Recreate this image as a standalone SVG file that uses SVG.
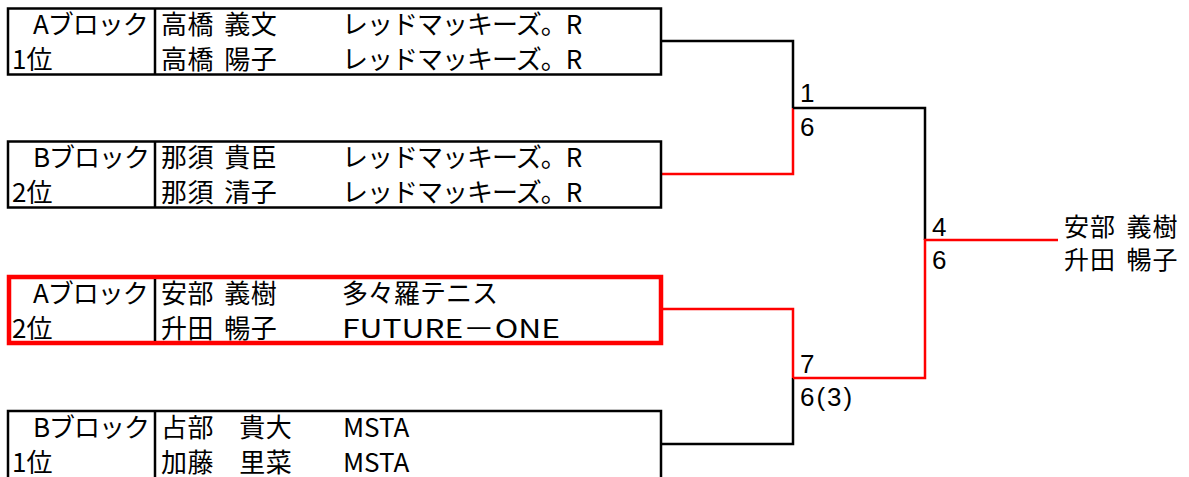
<svg xmlns="http://www.w3.org/2000/svg" width="1189" height="477" viewBox="0 0 1189 477">
<style>
text{font-family:"Noto Sans CJK JP","Noto Sans",sans-serif;font-size:26px;fill:#000}
.box{fill:#fff;stroke:#000;stroke-width:2.5}
.win{fill:#fff;stroke:#f00;stroke-width:4.5}
.div{stroke:#000;stroke-width:2.5}
.k{fill:none;stroke:#000;stroke-width:2.5}
.r{fill:none;stroke:#f00;stroke-width:2.5}
.n{font-family:"Liberation Sans","Noto Sans",sans-serif;font-size:26px}
.blk{letter-spacing:-1px}
.nm{letter-spacing:0.5px;word-spacing:4px}
.nm2{letter-spacing:0.5px;word-spacing:19px}
.kana{letter-spacing:-1px}
.wn{font-size:25px;letter-spacing:1px;word-spacing:4px}
</style>
<rect width="1189" height="477" fill="#fff"/>
<g id="connectors">
<polyline class="k" points="661,41 793,41 793,108"/>
<polyline class="r" points="661,174 793,174 793,108"/>
<polyline class="k" points="793,108 925,108 925,240"/>
<polyline class="r" points="661,309 793,309 793,378"/>
<polyline class="k" points="661,444 793,444 793,378"/>
<polyline class="r" points="793,378 925,378 925,240 1058,240"/>
<text class="n" x="800" y="102">1</text>
<text class="n" x="800" y="136">6</text>
<text class="n" x="800" y="373">7</text>
<text class="n" x="800" y="406" letter-spacing="2">6(3)</text>
<text class="n" x="932" y="236">4</text>
<text class="n" x="932" y="269">6</text>
</g>
<g id="node-a1">
<rect class="box" x="8" y="8.5" width="653" height="66"/>
<line class="div" x1="155" y1="8.5" x2="155" y2="74.5"/>
<text class="blk" x="33" y="33.5">Aブロック</text>
<text x="12" y="68.5">1位</text>
<text class="nm" x="161" y="33.5">高橋 義文</text>
<text class="nm" x="161" y="68.5">高橋 陽子</text>
<text class="kana" x="342" y="33.5">レッドマッキーズ。R</text>
<text class="kana" x="342" y="68.5">レッドマッキーズ。R</text>
</g>
<g id="node-b2">
<rect class="box" x="8" y="141.5" width="653" height="66"/>
<line class="div" x1="155" y1="141.5" x2="155" y2="207.5"/>
<text class="blk" x="33" y="166.5">Bブロック</text>
<text x="12" y="201.5">2位</text>
<text class="nm" x="161" y="166.5">那須 貴臣</text>
<text class="nm" x="161" y="201.5">那須 清子</text>
<text class="kana" x="342" y="166.5">レッドマッキーズ。R</text>
<text class="kana" x="342" y="201.5">レッドマッキーズ。R</text>
</g>
<g id="node-a2">
<rect class="win" x="9" y="277" width="652" height="66"/>
<line class="div" x1="155" y1="279" x2="155" y2="341"/>
<text class="blk" x="33" y="302.5">Aブロック</text>
<text x="12" y="337.5">2位</text>
<text class="nm" x="161" y="302.5">安部 義樹</text>
<text class="nm" x="161" y="337.5">升田 暢子</text>
<text x="342" y="302.5">多々羅テニス</text>
<text x="342" y="337.5" textLength="218" lengthAdjust="spacingAndGlyphs">FUTURE－ONE</text>
</g>
<g id="node-b1">
<rect class="box" x="8" y="411" width="653" height="80"/>
<line class="div" x1="155" y1="411" x2="155" y2="480"/>
<text class="blk" x="33" y="436.5">Bブロック</text>
<text x="12" y="471.5">1位</text>
<text class="nm2" x="161" y="436.5">占部 貴大</text>
<text class="nm2" x="161" y="471.5">加藤 里菜</text>
<text x="343" y="436.5">MSTA</text>
<text x="343" y="471.5">MSTA</text>
</g>
<g id="node-winner">
<text class="wn" x="1064" y="236">安部 義樹</text>
<text class="wn" x="1064" y="269">升田 暢子</text>
</g>
</svg>
